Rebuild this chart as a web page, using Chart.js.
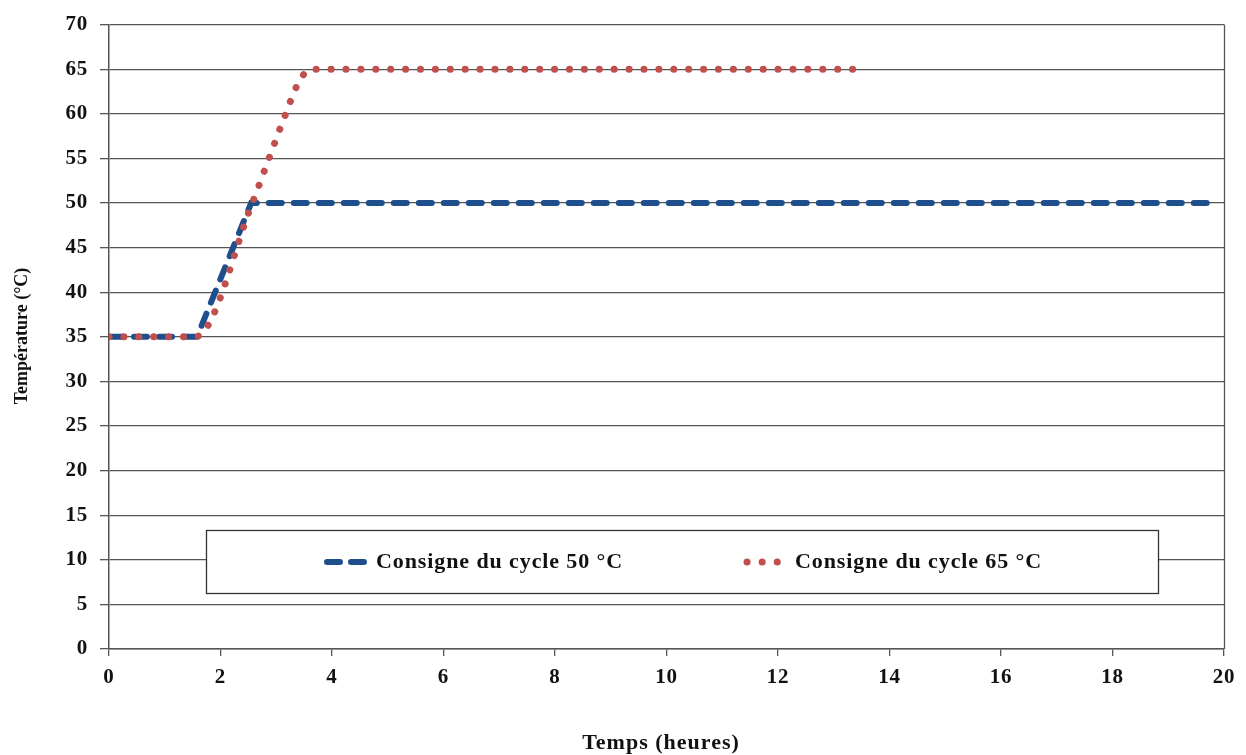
<!DOCTYPE html>
<html>
<head>
<meta charset="utf-8">
<script src="https://cdn.jsdelivr.net/npm/chart.js@4"></script>
<style>
  html, body { margin: 0; padding: 0; background: #fff; }
  #wrap { width: 1246px; height: 755px; }
</style>
</head>
<body>
<div id="wrap"><canvas id="chart"></canvas></div>
<script>
// Consigne du cycle 50 °C
const hours50 = [0, 1.58, 2.55, 19.9]
const temps50 = [35, 35, 50, 50]
// Consigne du cycle 65 °C
const hours65 = [0, 1.55, 2.57, 2.87, 3.17, 3.4, 3.62, 13.45]
const temps65 = [35, 35, 50, 55, 60, 63.5, 65, 65]

const seriesLabels = ["Consigne du cycle 50 °C", "Consigne du cycle 65 °C"]
const xTitle = "Temps (heures)"
const yTitle = "Température (°C)"

const blue = "#1f4e8c"
const red = "#c0504d"
const gridColor = "#555"
const serif = "'Liberation Serif', 'Times New Roman', serif"
const tickFont = { family: serif, size: 21, weight: "bold" }

const toPoints = (xs, ys) => xs.map((x, i) => ({ x: x, y: ys[i] }))

// text in the reference is a little wider than Times, so spread the letters a bit
const textStyle = {
    id: "textStyle",
    beforeDraw(chart) {
        chart.ctx.letterSpacing = "0.8px"
    }
}

const decorations = {
    id: "decorations",
    afterDraw(chart) {
        const ctx = chart.ctx
        const area = chart.chartArea
        ctx.save()
        // right frame of the plot
        ctx.strokeStyle = gridColor
        ctx.lineWidth = 1.3
        ctx.beginPath()
        ctx.moveTo(area.right + 0.5, area.top)
        ctx.lineTo(area.right + 0.5, area.bottom)
        ctx.stroke()

        // legend box
        ctx.fillStyle = "#fff"
        ctx.fillRect(206, 530, 952, 63)
        ctx.strokeStyle = "#333"
        ctx.strokeRect(206.5, 530.5, 952, 63)

        const cy = 562
        ctx.lineCap = "round"
        ctx.strokeStyle = blue
        ctx.lineWidth = 6
        ctx.setLineDash([13, 11])
        ctx.beginPath()
        ctx.moveTo(327, cy)
        ctx.lineTo(369, cy)
        ctx.stroke()
        ctx.strokeStyle = red
        ctx.lineWidth = 7
        ctx.setLineDash([0.1, 15])
        ctx.beginPath()
        ctx.moveTo(747, cy)
        ctx.lineTo(778, cy)
        ctx.stroke()
        ctx.setLineDash([])

        ctx.fillStyle = "#111"
        ctx.textBaseline = "middle"
        ctx.textAlign = "left"
        ctx.font = "bold 22px " + serif
        ctx.letterSpacing = "0.9px"
        ctx.fillText(seriesLabels[0], 376, cy)
        ctx.fillText(seriesLabels[1], 795, cy)

        // axis titles
        ctx.textAlign = "center"
        ctx.font = "bold 22px " + serif
        ctx.letterSpacing = "1px"
        ctx.fillText(xTitle, 661, 743)

        ctx.font = "bold 18px " + serif
        ctx.letterSpacing = "0px"
        ctx.translate(22, 336)
        ctx.rotate(-Math.PI / 2)
        ctx.fillText(yTitle, 0, 0)
        ctx.restore()
    }
}

new Chart(
    document.getElementById("chart").getContext("2d"),
    {
        type: "line",
        data: {
            datasets: [
                {
                    label: seriesLabels[0],
                    data: toPoints(hours50, temps50),
                    borderColor: blue,
                    borderWidth: 6,
                    borderDash: [13, 12],
                    borderCapStyle: "round",
                    pointRadius: 0,
                    tension: 0,
                    order: 1
                },
                {
                    label: seriesLabels[1],
                    data: toPoints(hours65, temps65),
                    borderColor: red,
                    borderWidth: 7,
                    borderDash: [0.1, 14.8],
                    borderCapStyle: "round",
                    pointRadius: 0,
                    cubicInterpolationMode: "monotone",
                    order: 0
                }
            ]
        },
        options: {
            responsive: true,
            maintainAspectRatio: false,
            animation: false,
            layout: { padding: { top: 20, right: 22, left: 0, bottom: 0 } },
            plugins: {
                legend: { display: false },
                tooltip: { enabled: false }
            },
            scales: {
                x: {
                    type: "linear",
                    min: 0,
                    max: 20,
                    ticks: { stepSize: 2, color: "#111", font: tickFont, padding: 9 },
                    grid: { drawOnChartArea: false, drawTicks: true, tickLength: 7, color: gridColor, lineWidth: 1.3 },
                    border: { display: true, color: gridColor, width: 1.5 },
                    afterFit: s => { s.height = 106 }
                },
                y: {
                    min: 0,
                    max: 70,
                    ticks: { stepSize: 5, color: "#111", font: tickFont, padding: 12 },
                    grid: { color: gridColor, lineWidth: 1.3, tickLength: 9 },
                    border: { display: true, color: gridColor, width: 1.5 },
                    afterFit: s => { s.width = 109 }
                }
            }
        },
        plugins: [textStyle, decorations]
    }
)
</script>
</body>
</html>
